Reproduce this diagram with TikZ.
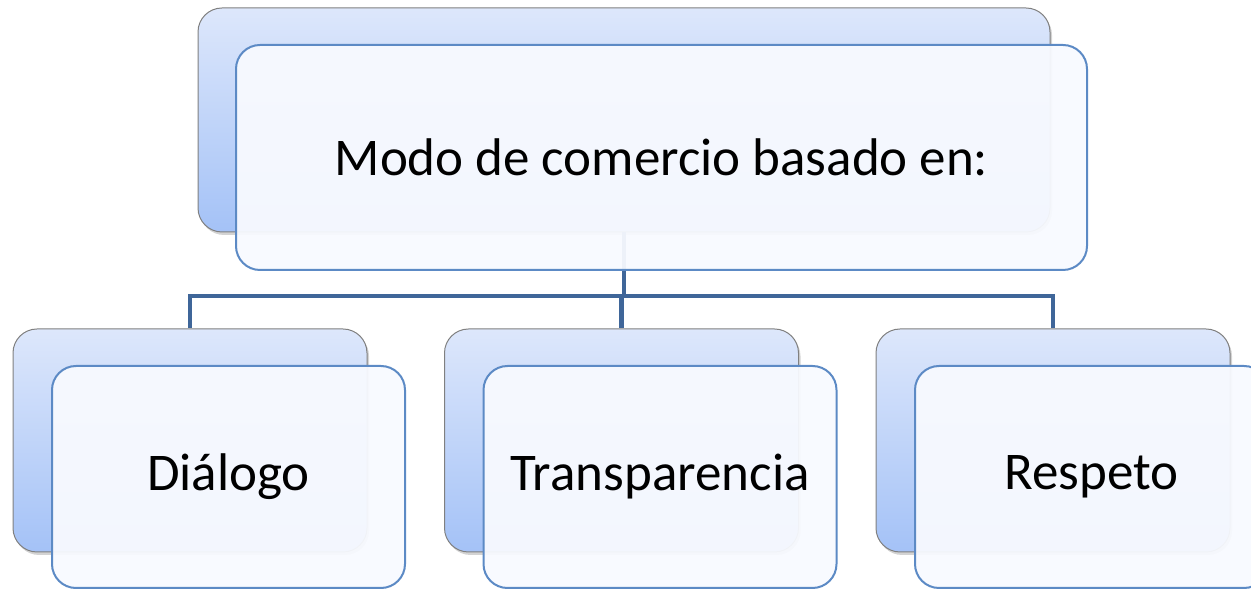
\documentclass[tikz,border=0pt]{standalone}
\usepackage{fontspec}
\setmainfont{Carlito}
\usetikzlibrary{shapes, shadows}
\definecolor{backtop}{HTML}{DDE7FB}
\definecolor{backbot}{HTML}{A4C2F7}
\definecolor{frontfill}{HTML}{F8FAFF}
\definecolor{frontline}{HTML}{5C8AC5}
\definecolor{barline}{HTML}{3F6699}
\tikzstyle{backbox} = [rectangle, draw=gray, line width=1pt, top color=backtop, bottom color=backbot,
    rounded corners=24pt, drop shadow={shadow xshift=2pt, shadow yshift=-3pt, opacity=0.35}]
\tikzstyle{frontbox} = [rectangle, draw=frontline, line width=2pt, fill=frontfill, fill opacity=0.94,
    text opacity=1, rounded corners=24pt, inner sep=0pt]
\tikzstyle{bar} = [draw=barline, line width=4.5pt]

\begin{document}
\begin{tikzpicture}[x=1pt, y=1pt]
\tikzstyle{every node}=[font=\fontsize{53}{60}\selectfont]
\useasboundingbox (0,0) rectangle (1251,589);
\node[backbox, minimum width=852pt, minimum height=224pt] (modo_back) at (624,469) {};
\foreach \child/\x in {dia/190, trans/621.5, resp/1053}
  \node[backbox, minimum width=354pt, minimum height=223pt] (\child_back) at (\x,148.5) {};
\coordinate (junction) at (624,293);
\foreach \child in {dia, trans, resp}
  \path[bar] (modo_back.south) |- (junction) -| (\child_back.north);
\node[frontbox, minimum width=851pt, minimum height=225pt] (modo) at ([shift={(37.5,-37.5)}]modo_back) {Modo de comercio basado en:};
\node[frontbox, minimum width=353pt, minimum height=222pt] (dia) at ([shift={(38.5,-36.5)}]dia_back) {Diálogo};
\node[frontbox, minimum width=353pt, minimum height=222pt] (trans) at ([shift={(38.5,-36.5)}]trans_back) {Transparencia};
\node[frontbox, minimum width=353pt, minimum height=222pt] (resp) at ([shift={(38.5,-36.5)}]resp_back) {Respeto};
\end{tikzpicture}
\end{document}
